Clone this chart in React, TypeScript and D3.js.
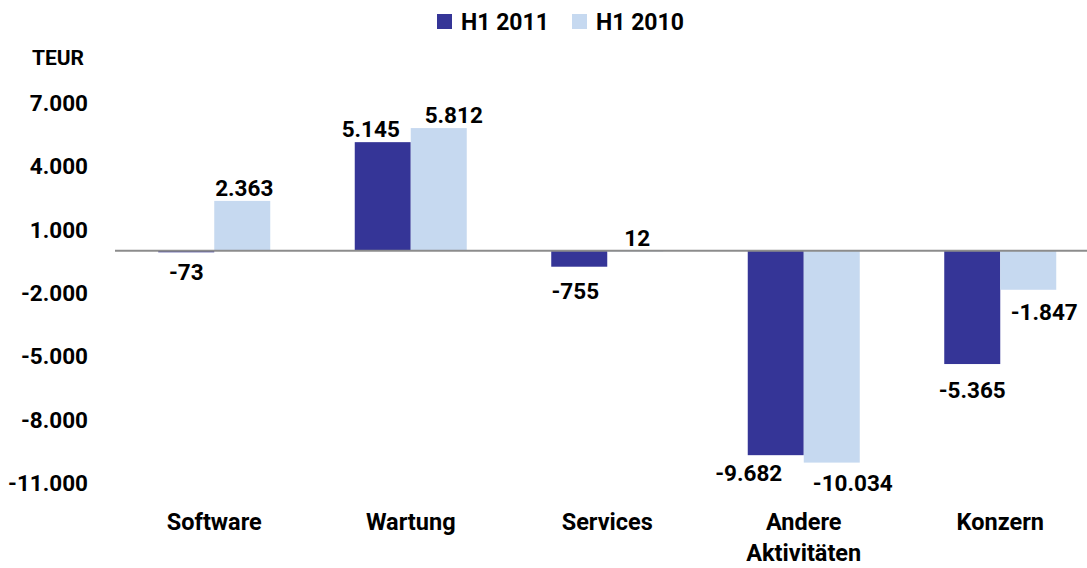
import React from "react";
import * as d3 from "d3";

const categories = ["Software", "Wartung", "Services", "Andere\nAktivitäten", "Konzern"];
const seriesNames = ["H1 2011", "H1 2010"];
const h12011 = [-73, 5145, -755, -9682, -5365];
const h12010 = [2363, 5812, 12, -10034, -1847];
const yTicks = [7000, 4000, 1000, -2000, -5000, -8000, -11000];
const colors = ["#353597", "#c6d9f0"];
// manual label nudges [dx, dy] like the hand-moved labels in the source
const nudge2011: [number, number][] = [[0, 0], [-12, 0], [-4, 4], [-27, -2], [0, 6]];
const nudge2010: [number, number][] = [[2, 0], [15, 0], [2, 0], [21, 0], [16, 2]];

const fmt = (v: number) => {
  const s = Math.abs(v).toString().replace(/\B(?=(\d{3})+(?!\d))/g, ".");
  return (v < 0 ? "-" : "") + s;
};

export default function App() {
  const W = 1087, H = 568;
  const font = "Roboto, 'Liberation Sans', Arial, sans-serif";
  const y = d3.scaleLinear().domain([-11000, 7000]).range([483, 103]);
  const x = d3.scaleBand<string>().domain(categories).range([116, 1098.5]);
  const barW = 56;
  const series = [h12011, h12010];
  const nudges = [nudge2011, nudge2010];
  const y0 = y(0);
  const fs = 22.5;
  return (
    <svg width={W} height={H} style={{ position: "absolute", left: 0, top: 0, background: "#fff" }} fontFamily={font} fontWeight="bold">
      {/* legend */}
      <rect x={437} y={14} width={15} height={15} fill={colors[0]} />
      <text x={461} y={22} dominantBaseline="central" fontSize={23} fill="#000">{seriesNames[0]}</text>
      <rect x={572} y={14} width={15} height={15} fill={colors[1]} />
      <text x={596} y={22} dominantBaseline="central" fontSize={23} fill="#000">{seriesNames[1]}</text>
      {/* y axis */}
      <text x={84} y={58} textAnchor="end" dominantBaseline="central" fontSize={21} fill="#000">TEUR</text>
      {yTicks.map((t) => (
        <text key={t} x={88} y={y(t)} textAnchor="end" dominantBaseline="central" fontSize={fs} fill="#000">{fmt(t)}</text>
      ))}
      {/* bars */}
      {categories.map((c, i) => {
        const cx = (x(c) as number) + x.bandwidth() / 2;
        return series.map((s, k) => {
          const v = s[i];
          const bx = cx - barW + k * barW;
          const top = Math.min(y(v), y0);
          const h = Math.abs(y(v) - y0);
          return <rect key={c + k} x={bx} y={top} width={barW} height={Math.max(h, 1)} fill={colors[k]} />;
        });
      })}
      <line x1={115} x2={1087} y1={y0} y2={y0} stroke="#8c8c8c" strokeWidth={2} />
      {/* value labels */}
      {categories.map((c, i) => {
        const cx = (x(c) as number) + x.bandwidth() / 2;
        return series.map((s, k) => {
          const v = s[i];
          const lx = cx - barW / 2 + k * barW + nudges[k][i][0];
          const ly = v >= 0 ? y(v) - 13 : y(v) + 20;
          return (
            <text key={"l" + c + k} x={lx} y={ly + nudges[k][i][1]} textAnchor="middle" dominantBaseline="central" fontSize={fs} fill="#000">{fmt(v)}</text>
          );
        });
      })}
      {/* category labels */}
      {categories.map((c) => {
        const cx = (x(c) as number) + x.bandwidth() / 2;
        return c.split("\n").map((line, j) => (
          <text key={c + j} x={cx} y={522 + j * 31} textAnchor="middle" dominantBaseline="central" fontSize={23.5} fill="#000">{line}</text>
        ));
      })}
    </svg>
  );
}
